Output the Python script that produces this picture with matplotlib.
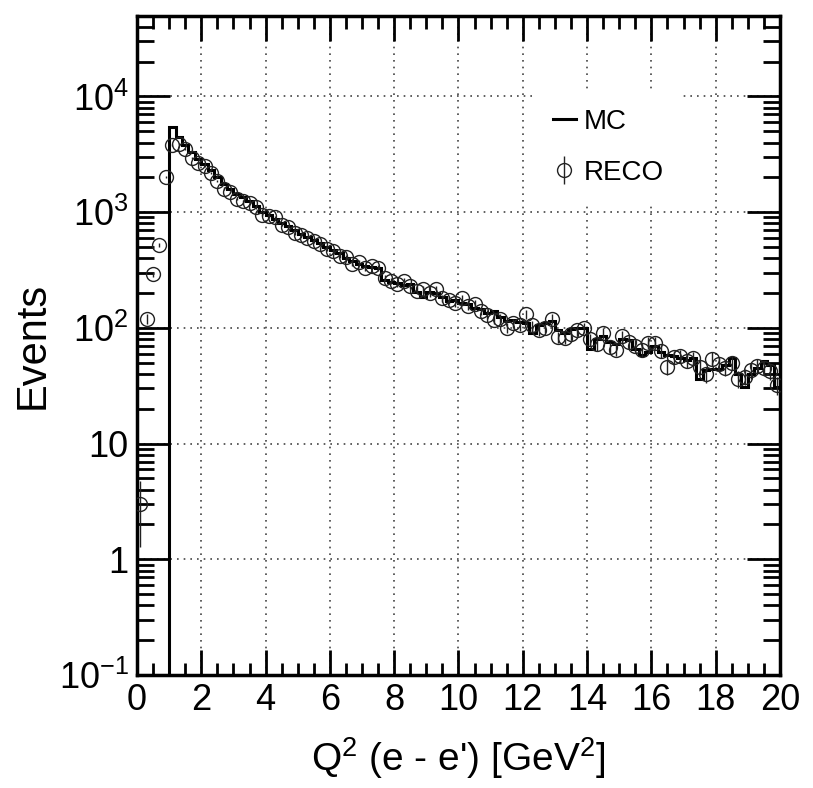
import numpy as np
import matplotlib
matplotlib.use("Agg")
import matplotlib.pyplot as plt
from matplotlib.ticker import FixedLocator, FixedFormatter, LogLocator, AutoMinorLocator, NullFormatter

plt.rcParams['font.family'] = ['Liberation Sans', 'DejaVu Sans']
plt.rcParams['mathtext.default'] = 'regular'

# 100 bins of 0.2 GeV^2 from 0 to 20
bin_edges = np.linspace(0, 20, 101)
bin_centers = 0.5 * (bin_edges[:-1] + bin_edges[1:])

mc_counts = [
    0, 0, 0, 0, 0, 5400, 4500, 3800, 3300, 2900,
    2600, 2300, 2000, 1750, 1600, 1450, 1350, 1250, 1130, 1000,
    950, 880, 800, 760, 700, 650, 610, 570, 540, 500,
    470, 440, 400, 380, 360, 345, 335, 330, 260, 250,
    245, 235, 240, 205, 185, 205, 200, 185, 170, 175,
    165, 160, 150, 145, 135, 140, 125, 115, 118, 112,
    110, 90, 105, 110, 115, 95, 90, 98, 100, 100,
    66, 80, 85, 75, 72, 80, 78, 66, 58, 62,
    70, 62, 58, 57, 55, 53, 55, 36, 43, 44,
    44, 48, 55, 40, 31, 40, 45, 52, 48, 31,
]

reco_counts = [
    3, 120, 290, 520, 2000, 3800, 3900, 3500, 2950, 2650,
    2500, 2200, 1850, 1600, 1500, 1300, 1250, 1200, 1100, 950,
    920, 900, 780, 740, 660, 630, 600, 560, 530, 480,
    460, 420, 410, 360, 370, 330, 340, 330, 270, 255,
    240, 255, 230, 210, 215, 200, 215, 180, 175, 165,
    180, 155, 160, 140, 130, 118, 120, 100, 110, 105,
    132, 105, 95, 100, 120, 83, 82, 88, 95, 100,
    80, 72, 90, 68, 65, 85, 75, 70, 64, 74,
    74, 63, 46, 56, 57, 52, 55, 46, 40, 54,
    49, 45, 50, 36, 38, 43, 47, 45, 42, 32,
]

ymin, ymax = 0.1, 5e4

mc = np.array(mc_counts, dtype=float)
reco = np.array(reco_counts, dtype=float)
reco_err = np.sqrt(reco)

fig = plt.figure(figsize=(8.13, 7.88), dpi=100)
ax = fig.add_axes([0.1685, 0.1434, 0.7909, 0.8368])

ax.set_yscale('log')
ax.set_xlim(0, 20)
ax.set_ylim(ymin, ymax)

# grid
ax.grid(True, which='major', color='#444444', linestyle=(0, (1, 3)), linewidth=1.2)
ax.set_axisbelow(True)

# MC histogram (empty bins sit at the bottom of the frame, ROOT-like)
ax.stairs(np.clip(mc, ymin, None), bin_edges, baseline=None, color='black',
          linewidth=2.2, label='MC', zorder=3)

# RECO points
ax.errorbar(bin_centers, reco, yerr=reco_err, fmt='o', mfc='none', mec='#222222',
            ms=10, mew=1.0, ecolor='#222222', elinewidth=1.0, capsize=0,
            label='RECO', zorder=4)

# ticks, ROOT style
ax.xaxis.set_major_locator(FixedLocator(np.arange(0, 21, 2)))
ax.xaxis.set_minor_locator(AutoMinorLocator(4))
yt = [1e-1, 1, 10, 1e2, 1e3, 1e4]
ax.yaxis.set_major_locator(FixedLocator(yt))
ax.yaxis.set_major_formatter(FixedFormatter(['$10^{-1}$', '1', '10', '$10^{2}$', '$10^{3}$', '$10^{4}$']))
ax.yaxis.set_minor_locator(LogLocator(base=10, subs=np.arange(2, 10), numticks=20))
ax.yaxis.set_minor_formatter(NullFormatter())
ax.tick_params(which='both', direction='in', top=True, right=True, width=2.0)
ax.tick_params(which='major', length=18, labelsize=26, pad=6)
ax.tick_params(axis='y', which='major', length=24)
ax.tick_params(axis='y', which='minor', length=12)
ax.tick_params(axis='x', which='minor', length=9)
for s in ax.spines.values():
    s.set_linewidth(2.5)

ax.set_xlabel("Q$^{2}$ (e - e') [GeV$^{2}$]", fontsize=28, labelpad=12)
ax.set_ylabel('Events', fontsize=30, labelpad=4)

leg = ax.legend(loc='upper left', bbox_to_anchor=(0.60, 0.905), frameon=True,
                fontsize=20, handlelength=0.8, handletextpad=0.3,
                labelspacing=0.9, borderpad=0.6)
leg.get_frame().set_edgecolor('white')
leg.get_frame().set_facecolor('white')
leg.get_frame().set_alpha(1.0)
leg.get_frame().set_boxstyle('square', pad=0.0)

fig.savefig('out.png', dpi=100)
